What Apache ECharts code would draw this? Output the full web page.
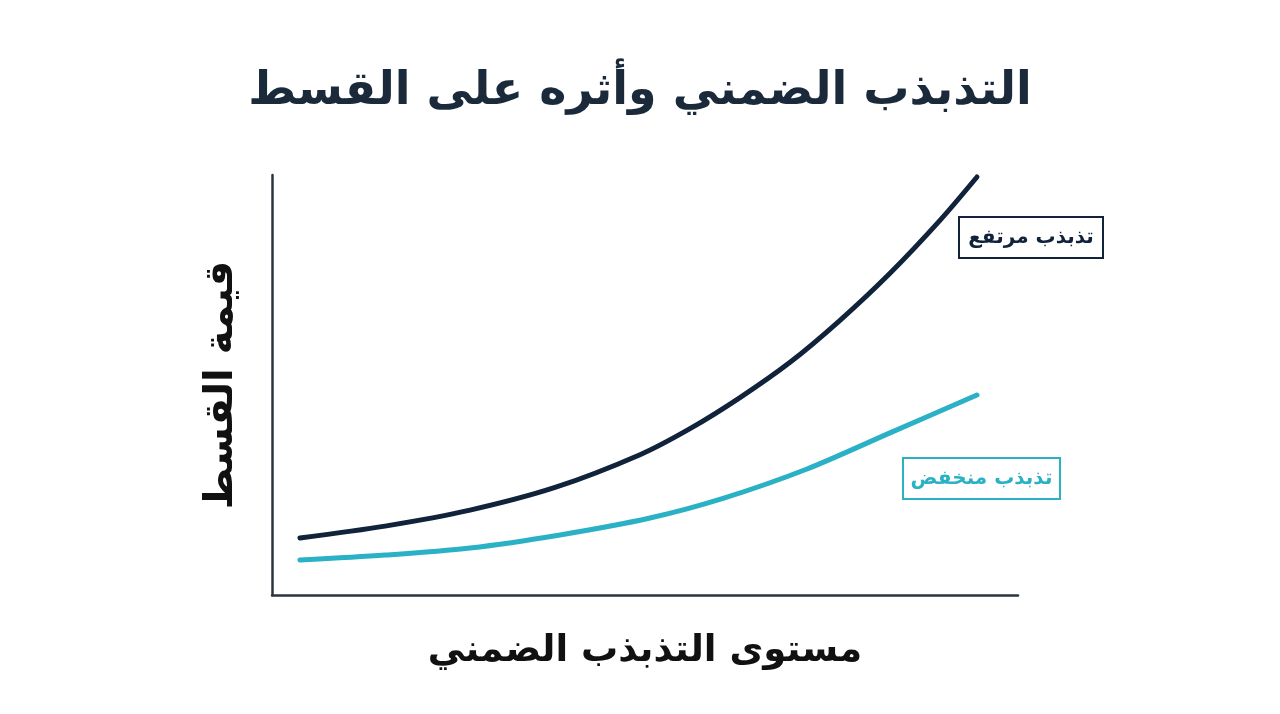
<!DOCTYPE html>
<html>
<head>
<meta charset="utf-8">
<script src="https://cdn.jsdelivr.net/npm/echarts@6/dist/echarts.min.js"></script>
<style>html,body{margin:0;padding:0;background:#fff}#c{width:1280px;height:714px}</style>
</head>
<body>
<div id="c"></div>
<script>
const titleText = 'التذبذب الضمني وأثره على القسط';
const xAxisName = 'مستوى التذبذب الضمني';
const yAxisName = 'قيمة القسط';
const seriesNames = ['تذبذب مرتفع', 'تذبذب منخفض'];
const xHigh   = [3.75, 15.15, 26.54, 37.94, 49.33, 56.03, 62.73, 69.44, 76.14, 82.84, 89.54, 94.5];
const highVol = [13.57, 16.4, 20.2, 25.6, 33.4, 39.6, 47.0, 55.4, 65.4, 76.6, 89.2, 99.52];
const xLow    = [3.75, 15.15, 26.54, 38.6, 50.67, 60.46, 71.72, 82.84, 94.5];
const lowVol  = [8.33, 9.5, 11.19, 14.3, 18.33, 23.0, 30.0, 38.6, 47.62];

const navy = '#10233a';
const teal = '#2bb1c6';
const font = 'DejaVu Sans';

function labelBox(x, y, w, h, text, color) {
  return {
    type: 'group', left: x, top: y,
    children: [
      { type: 'rect', shape: { x: 0, y: 0, width: w, height: h },
        style: { fill: '#fff', stroke: color, lineWidth: 2 } },
      { type: 'text', x: w / 2, y: h / 2,
        style: { text: text, fontFamily: font, fontSize: 20, fontWeight: 'bold', fill: color,
                 align: 'center', verticalAlign: 'middle' } }
    ]
  };
}

const chart = echarts.init(document.getElementById('c'));
chart.setOption({
  backgroundColor: '#ffffff',
  animation: false,
  title: {
    text: titleText, left: 'center', top: 64,
    textStyle: { fontFamily: font, fontSize: 46, fontWeight: 'bold', color: '#1a2a3b' }
  },
  grid: { left: 272, right: 262, top: 175, bottom: 119 },
  xAxis: {
    type: 'value', min: 0, max: 100,
    name: xAxisName, nameLocation: 'middle', nameGap: 38,
    nameTextStyle: { fontFamily: font, fontSize: 37, fontWeight: 'bold', color: '#111' },
    axisLine: { show: true, onZero: false, lineStyle: { color: '#2a3440', width: 2.5 } },
    axisTick: { show: false }, axisLabel: { show: false }, splitLine: { show: false }
  },
  yAxis: {
    type: 'value', min: 0, max: 100,
    name: yAxisName, nameLocation: 'middle', nameGap: 30,
    nameTextStyle: { fontFamily: font, fontSize: 40, fontWeight: 'bold', color: '#111' },
    axisLine: { show: true, lineStyle: { color: '#2a3440', width: 2.5 } },
    axisTick: { show: false }, axisLabel: { show: false }, splitLine: { show: false }
  },
  series: [
    {
      name: seriesNames[0], type: 'line', smooth: 0.3, symbol: 'none',
      data: xHigh.map((x, i) => [x, highVol[i]]),
      lineStyle: { color: navy, width: 5, cap: 'round' }
    },
    {
      name: seriesNames[1], type: 'line', smooth: 0.3, symbol: 'none',
      data: xLow.map((x, i) => [x, lowVol[i]]),
      lineStyle: { color: teal, width: 5, cap: 'round' }
    }
  ],
  graphic: [
    labelBox(958, 216, 144, 41, seriesNames[0], navy),
    labelBox(902, 457, 157, 41, seriesNames[1], teal)
  ]
});
</script>
</body>
</html>
